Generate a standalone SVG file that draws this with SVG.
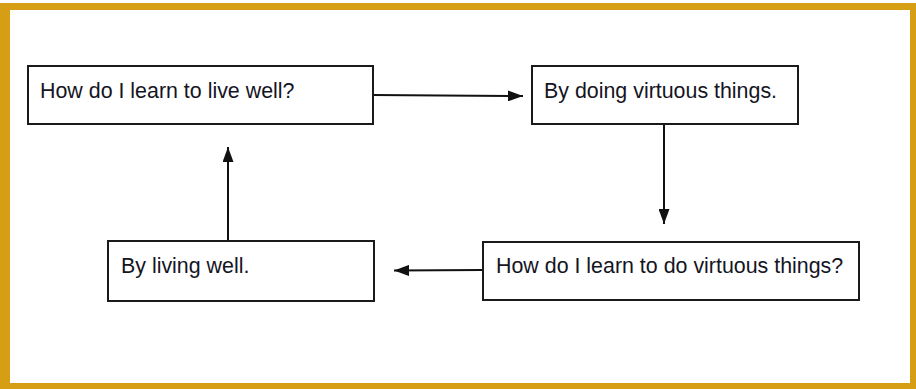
<svg xmlns="http://www.w3.org/2000/svg" width="916" height="389" viewBox="0 0 916 389">
<style>
.box{fill:#fff;stroke:#1a1a1a;stroke-width:2}
.lbl{font-family:"Liberation Sans",Arial,sans-serif;font-size:21.4px;fill:#15151f}
.conn{stroke:#111;stroke-width:2;fill:none}
</style>
<defs>
<marker id="ah" viewBox="0 0 15 11" refX="15" refY="5.5" markerWidth="15" markerHeight="11" markerUnits="userSpaceOnUse" orient="auto">
<path d="M0,0 L15,5.5 L0,11 Z" fill="#111"/>
</marker>
</defs>
<rect x="0" y="3" width="916" height="386" fill="#D59E15"/>
<rect x="10" y="10" width="900" height="373" fill="#fff"/>
<g id="connectors">
<line class="conn" x1="373" y1="95" x2="523" y2="96" marker-end="url(#ah)"/>
<line class="conn" x1="664" y1="124" x2="664" y2="224" marker-end="url(#ah)"/>
<line class="conn" x1="483" y1="270" x2="394" y2="270.5" marker-end="url(#ah)"/>
<line class="conn" x1="228" y1="241" x2="228" y2="147" marker-end="url(#ah)"/>
</g>
<g id="node1">
<rect class="box" x="28" y="66" width="345" height="58"/>
<text class="lbl" x="40" y="98">How do I learn to live well?</text>
</g>
<g id="node2">
<rect class="box" x="532" y="66" width="266" height="58"/>
<text class="lbl" x="544" y="98">By doing virtuous things.</text>
</g>
<g id="node3">
<rect class="box" x="483" y="242" width="376" height="58"/>
<text class="lbl" x="496" y="273">How do I learn to do virtuous things?</text>
</g>
<g id="node4">
<rect class="box" x="108" y="241" width="266" height="60"/>
<text class="lbl" x="121" y="273">By living well.</text>
</g>
</svg>
